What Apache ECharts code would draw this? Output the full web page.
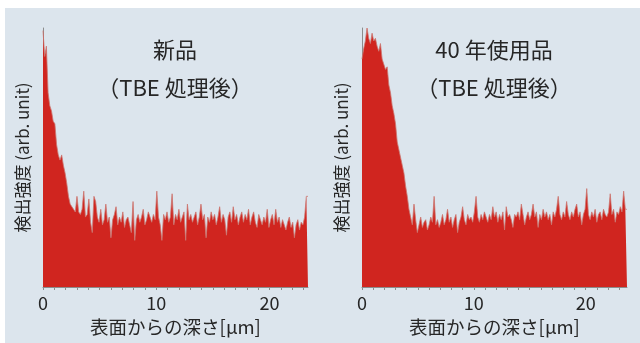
<!DOCTYPE html>
<html>
<head>
<meta charset="utf-8">
<script src="https://cdn.jsdelivr.net/npm/echarts@6/dist/echarts.min.js"></script>
<style>
  html, body { margin: 0; padding: 0; background: #ffffff; }
  #chart { width: 640px; height: 343px; }
</style>
</head>
<body>
<div id="chart"></div>
<script>
// Depth channel width (µm) of the profiles
const BIN = 0.15;

// Depth range of each profile (µm)
const newDepthMax = 23.4;
const usedDepthMax = 23.7;

// Detected intensity per channel, new sample (TBE treated)
const newCounts = [
  99, 89, 93, 75, 70, 68, 64, 63, 55, 51,
  49, 51, 47, 44, 40, 35, 32, 31, 30, 29,
  35, 29, 28, 30, 37, 27, 28, 34, 25, 21,
  35, 33, 27, 25, 30, 24, 26, 32, 25, 27,
  19, 26, 28, 31, 24, 27, 25, 29, 23, 26,
  27, 24, 21, 33, 18, 26, 28, 25, 27, 30,
  24, 26, 29, 27, 25, 28, 26, 37, 27, 24,
  18, 28, 26, 29, 25, 27, 36, 24, 28, 26,
  30, 25, 27, 29, 18, 32, 26, 28, 25, 27,
  29, 24, 27, 32, 26, 28, 19, 27, 25, 29,
  26, 28, 24, 27, 31, 25, 28, 26, 20, 27,
  29, 25, 31, 26, 28, 24, 27, 29, 25, 28,
  26, 30, 24, 27, 29, 25, 23, 28, 26, 24,
  27, 25, 30, 23, 26, 28, 24, 30, 25, 27,
  23, 26, 24, 22, 25, 27, 23, 25, 19, 24,
  26, 22, 25, 24, 27, 35
];

// Detected intensity per channel, 40-year service sample (TBE treated)
const usedCounts = [
  88, 92, 95, 100, 96, 94, 98, 95, 96, 93,
  91, 94, 88, 86, 84, 85, 78, 75, 70, 67,
  63, 56, 53, 50, 47, 44, 39, 35, 30, 27,
  24, 32, 26, 21, 24, 27, 23, 25, 26, 22,
  24, 27, 25, 35, 24, 26, 23, 25, 28, 24,
  26, 30, 25, 27, 23, 26, 28, 21, 25, 27,
  31, 26, 24, 28, 26, 27, 25, 29, 35, 27,
  25, 28, 26, 29, 27, 25, 28, 26, 31, 27,
  29, 25, 28, 26, 29, 22, 31, 27, 28, 26,
  23, 28, 27, 29, 26, 32, 28, 24, 27, 29,
  26, 28, 32, 27, 29, 23, 28, 26, 30, 27,
  29, 26, 28, 24, 29, 27, 30, 35, 28, 26,
  29, 27, 33, 28, 26, 29, 27, 30, 32, 27,
  29, 24, 28, 30, 38, 28, 26, 29, 27, 30,
  25, 28, 29, 26, 30, 28, 27, 29, 36, 28,
  30, 25, 29, 28, 31, 29, 37, 30
];

// Labelled depth ticks (µm)
const depthTicks = [0, 10, 20];

const panelTitles = [
  ['新品', '（TBE 処理後）'],
  ['40 年使用品', '（TBE 処理後）']
];
const xName = '表面からの深さ[μm]';
const yName = '検出強度 (arb. unit)';

const FONT = '"Noto Sans CJK JP", "Noto Sans", sans-serif';
const RED = '#d0251f';
const AXIS = '#8c8c8c';
const TEXT = '#262626';

// Channel counts -> step points at channel starts, closed at the last channel's right edge
function toSteps(counts, maxDepth) {
  const pts = counts.map((v, i) => [+(i * BIN).toFixed(3), v]);
  pts.push([maxDepth, counts[counts.length - 1]]);
  return pts;
}

const grids = [
  { left: 43, top: 28, width: 265, height: 259 },
  { left: 362, top: 28, width: 265, height: 259 }
];

function xAxisFor(idx, max) {
  return {
    type: 'value', gridIndex: idx, min: 0, max: max, interval: 1,
    axisLine: { show: true, lineStyle: { color: AXIS, width: 1 } },
    axisTick: { show: true, length: 3, inside: false, lineStyle: { color: AXIS, width: 1 } },
    axisLabel: {
      color: TEXT, fontSize: 18, fontFamily: FONT, margin: 7,
      showMaxLabel: false,
      formatter: v => depthTicks.includes(v) ? String(v) : ''
    },
    splitLine: { show: false },
    name: xName, nameLocation: 'middle', nameGap: 31,
    nameTextStyle: { color: TEXT, fontSize: 18.5, fontFamily: FONT }
  };
}

function yAxisFor(idx) {
  return {
    type: 'value', gridIndex: idx, min: 0, max: 100,
    axisLine: { show: true, lineStyle: { color: AXIS, width: 1 } },
    axisTick: { show: false },
    axisLabel: { show: false },
    splitLine: { show: false },
    name: yName, nameLocation: 'middle', nameRotate: 90, nameGap: 12,
    nameTextStyle: { color: TEXT, fontSize: 17, fontFamily: FONT }
  };
}

// Stepped, filled intensity profile
function profileSeries(idx, counts, max) {
  return {
    type: 'line', xAxisIndex: idx, yAxisIndex: idx,
    step: 'end', symbol: 'none', showSymbol: false, silent: true,
    data: toSteps(counts, max),
    lineStyle: { width: 0.8, color: '#cc7670' },
    areaStyle: { color: RED, opacity: 1 },
    z: 2
  };
}

function titleTexts(cx, lines) {
  return [
    { type: 'text', x: cx, y: 50, z: 10,
      style: { text: lines[0], fill: TEXT, font: '22px ' + FONT, textAlign: 'center', textVerticalAlign: 'middle' } },
    { type: 'text', x: cx, y: 88, z: 10,
      style: { text: lines[1], fill: TEXT, font: '22px ' + FONT, textAlign: 'center', textVerticalAlign: 'middle' } }
  ];
}

const chart = echarts.init(document.getElementById('chart'), null, { renderer: 'canvas' });
chart.setOption({
  animation: false,
  backgroundColor: '#ffffff',
  graphic: [
    { type: 'rect', z: -10, silent: true,
      shape: { x: 5, y: 8, width: 635, height: 335 },
      style: { fill: '#dce5ed' } },
    ...titleTexts(175, panelTitles[0]),
    ...titleTexts(494, panelTitles[1])
  ],
  grid: grids,
  xAxis: [xAxisFor(0, newDepthMax), xAxisFor(1, usedDepthMax)],
  yAxis: [yAxisFor(0), yAxisFor(1)],
  series: [
    profileSeries(0, newCounts, newDepthMax),
    profileSeries(1, usedCounts, usedDepthMax)
  ]
});
</script>
</body>
</html>
